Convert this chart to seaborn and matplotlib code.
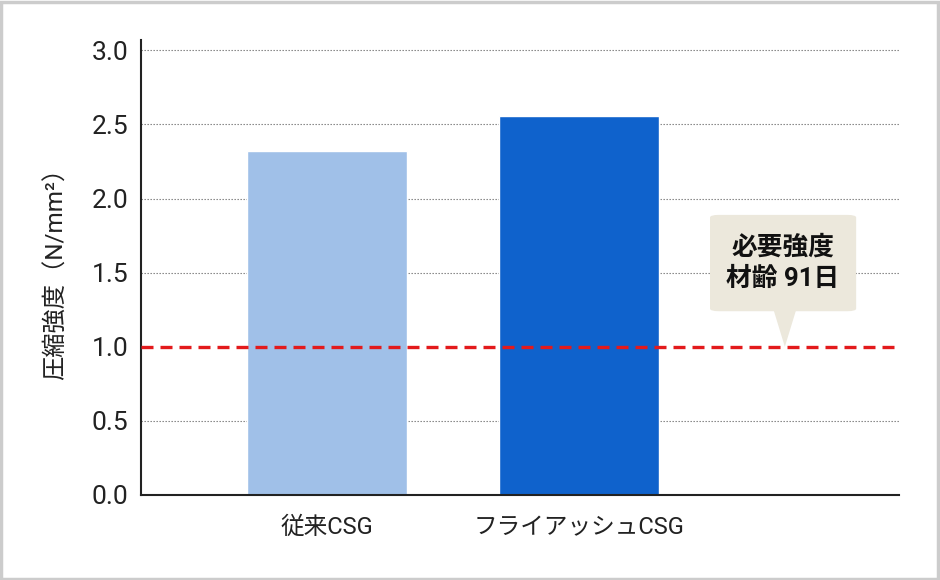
import matplotlib
matplotlib.use("Agg")
import matplotlib.pyplot as plt
import seaborn as sns
import pandas as pd
from matplotlib.patches import FancyBboxPatch, Polygon, Rectangle

categories = ["従来CSG", "フライアッシュCSG"]
values = [2.32, 2.56]
bar_colors = ["#a0c0e8", "#0f62cc"]
yticks = [0.0, 0.5, 1.0, 1.5, 2.0, 2.5, 3.0]
ytick_labels = ["0.0", "0.5", "1.0", "1.5", "2.0", "2.5", "3.0"]
required_strength = 1.0
callout_text = "必要強度\n材齢 91日"
ylabel = "圧縮強度（N/mm²）"

sns.set_theme(style="white")
plt.rcParams["font.family"] = ["Roboto", "Noto Sans CJK JP", "DejaVu Sans"]

df = pd.DataFrame({"cat": categories, "val": values})

fig = plt.figure(figsize=(9.4, 5.8), dpi=100)
ax = fig.add_axes([141/940, 1 - 495/580, (899 - 141)/940, (495 - 40)/580])

sns.barplot(data=df, x="cat", y="val", hue="cat", palette=bar_colors,
            width=0.635, legend=False, ax=ax, saturation=1)

ax.set_xlim(-0.738, 2.27)
ax.set_ylim(0, 3.07)
ax.set_yticks(yticks)
ax.set_yticklabels(ytick_labels, fontsize=19, color="#222222")
ax.tick_params(axis="both", length=0)
ax.tick_params(axis="y", pad=9)
ax.tick_params(axis="x", labelsize=17, pad=15)
for lab in ax.get_xticklabels():
    lab.set_color("#222222")
ax.set_xlabel("")
ax.set_ylabel(ylabel, fontsize=17.5, color="#222222", labelpad=17)

for y in yticks[1:]:
    if y == required_strength:
        continue
    ax.axhline(y, color="#777777", lw=0.8, ls=(0, (1.2, 1.5)), zorder=0)

ax.axhline(required_strength, color="#e31a1c", lw=2.4, ls=(0, (3.6, 2.1)), zorder=3)

for s in ["top", "right"]:
    ax.spines[s].set_visible(False)
for s in ["left", "bottom"]:
    ax.spines[s].set_color("#222222")
    ax.spines[s].set_linewidth(1.5)

# callout
box_x0, box_x1 = 1.52, 2.10
box_y0, box_y1 = 1.24, 1.89
tip_x = 1.817
box = FancyBboxPatch((box_x0, box_y0), box_x1 - box_x0, box_y1 - box_y0,
                     boxstyle="round,pad=0,rounding_size=0.035",
                     mutation_aspect=0.5,
                     facecolor="#ece8dc", edgecolor="none", zorder=4)
ax.add_patch(box)
tri = Polygon([(tip_x - 0.045, box_y0 + 0.01), (tip_x + 0.045, box_y0 + 0.01),
               (tip_x, required_strength)], closed=True,
              facecolor="#ece8dc", edgecolor="none", zorder=4)
ax.add_patch(tri)
ax.text((box_x0 + box_x1) / 2, (box_y0 + box_y1) / 2, callout_text,
        ha="center", va="center", fontsize=18.5, fontweight="bold",
        color="#111111", linespacing=1.4, zorder=5)

fig.patches.append(Rectangle((0.001, 0.002), 0.997, 0.995, transform=fig.transFigure,
                             fill=False, edgecolor="#cccccc", lw=2.5))

fig.savefig("out.png", dpi=100)
